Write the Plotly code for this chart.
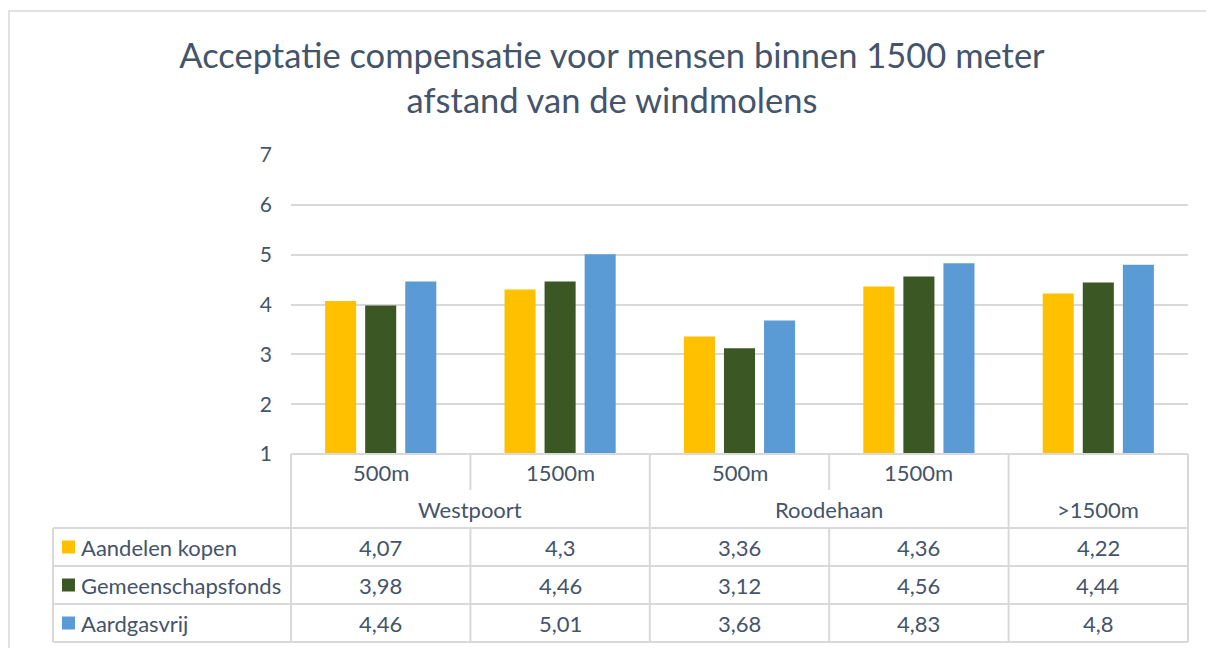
import plotly.graph_objects as go

# ---- data ----
regions = ["Westpoort", "Westpoort", "Roodehaan", "Roodehaan", ">1500m"]
distances = ["500m", "1500m", "500m", "1500m", ""]
series_names = ["Aandelen kopen", "Gemeenschapsfonds", "Aardgasvrij"]
aandelen_kopen = [4.07, 4.3, 3.36, 4.36, 4.22]
gemeenschapsfonds = [3.98, 4.46, 3.12, 4.56, 4.44]
aardgasvrij = [4.46, 5.01, 3.68, 4.83, 4.8]
series_values = [aandelen_kopen, gemeenschapsfonds, aardgasvrij]
colors = ["#FFC000", "#3B5724", "#5B9BD5"]
y_ticks = [1, 2, 3, 4, 5, 6, 7]
title_text = "Acceptatie compensatie voor mensen binnen 1500 meter<br>afstand van de windmolens"

# ---- geometry (page pixels; page has an 8px body margin) ----
OFF = 8
FW, FH = 1214 - OFF, 648 - OFF
L, R, T, B = 291, 1188, 155, 454          # plot area in page pixels
W, H = R - L, B - T
FONT = "Lato"
TXT = "#44546A"
LINE = "#D9D9D9"

def pxx(x):
    return (x - L) / W

def pxy(y):
    return (B - y) / H

n = len(regions)
positions = list(range(n))

fig = go.Figure()
for name, vals, col in zip(series_names, series_values, colors):
    fig.add_trace(go.Bar(x=positions, y=vals, name=name, marker_color=col,
                         marker_line_width=0, showlegend=False))

shapes = []

def hline(x0, x1, y, w=2):
    shapes.append(dict(type="line", xref="paper", yref="paper",
                       x0=pxx(x0), x1=pxx(x1), y0=pxy(y), y1=pxy(y),
                       line=dict(color=LINE, width=w), layer="above"))

def vline(x, y0, y1, w=2):
    shapes.append(dict(type="line", xref="paper", yref="paper",
                       x0=pxx(x), x1=pxx(x), y0=pxy(y0), y1=pxy(y1),
                       line=dict(color=LINE, width=w), layer="above"))

cw = W / n
bounds = [L + cw * i for i in range(n + 1)]
row_top, row_l1, row_l2 = 454, 490, 528
data_rows = [528, 566, 604, 642]
leg_left = 53

# outer chart border (left and top edges visible)
shapes.append(dict(type="rect", xref="paper", yref="paper",
                   x0=pxx(9), x1=pxx(1240), y0=pxy(11), y1=pxy(700),
                   line=dict(color=LINE, width=1.5), layer="below"))

hline(L, R, row_top)
for yy in data_rows:
    hline(leg_left, R, yy)
vline(leg_left, data_rows[0], data_rows[-1])

group_edges = set([0, n])
for i in range(1, n):
    if regions[i] != regions[i - 1]:
        group_edges.add(i)
for i, bx in enumerate(bounds):
    if i in group_edges:
        vline(bx, row_top, data_rows[-1])
    else:
        vline(bx, row_top, row_l1)
        vline(bx, data_rows[0], data_rows[-1])

annotations = []
TS = 22

def text(x, y, s, size=TS, xanchor="center"):
    annotations.append(dict(xref="paper", yref="paper", x=pxx(x), y=pxy(y),
                            text=s, showarrow=False, xanchor=xanchor, yanchor="middle",
                            font=dict(family=FONT, size=size, color=TXT)))

for i, d in enumerate(distances):
    if d:
        text(bounds[i] + cw / 2, (row_top + row_l1) / 2, d)

i = 0
while i < n:
    j = i
    while j + 1 < n and regions[j + 1] == regions[i]:
        j += 1
    text((bounds[i] + bounds[j + 1]) / 2, (row_l1 + row_l2) / 2, regions[i])
    i = j + 1

for r, (name, vals, col) in enumerate(zip(series_names, series_values, colors)):
    yc = (data_rows[r] + data_rows[r + 1]) / 2
    shapes.append(dict(type="rect", xref="paper", yref="paper",
                       x0=pxx(62), x1=pxx(75), y0=pxy(yc - 6.5), y1=pxy(yc + 6.5),
                       fillcolor=col, line=dict(width=0), layer="above"))
    text(79, yc, name, xanchor="left")
    for k, v in enumerate(vals):
        text(bounds[k] + cw / 2, yc, ("%g" % v).replace(".", ","))

fig.update_layout(
    width=FW, height=FH,
    margin=dict(l=L - OFF, r=FW - (R - OFF), t=T - OFF, b=FH - (B - OFF), pad=0),
    paper_bgcolor="white", plot_bgcolor="white",
    title=dict(text=title_text, x=(612 - OFF) / FW, xref="container", xanchor="center",
               y=1 - (68 - OFF) / FH, yref="container", yanchor="middle",
               font=dict(family=FONT, size=34.5, color=TXT)),
    barmode="group", bargap=0.33, bargroupgap=0.225,
    xaxis=dict(range=[-0.5, n - 0.5], visible=False, fixedrange=True),
    yaxis=dict(range=[1, 7], tickvals=y_ticks, showgrid=True, gridcolor=LINE,
               gridwidth=1.5, zeroline=False, showline=False, ticks="",
               ticklabelstandoff=18,
               tickfont=dict(family=FONT, size=21, color=TXT)),
    shapes=shapes, annotations=annotations,
)

fig.write_html("out.html")
